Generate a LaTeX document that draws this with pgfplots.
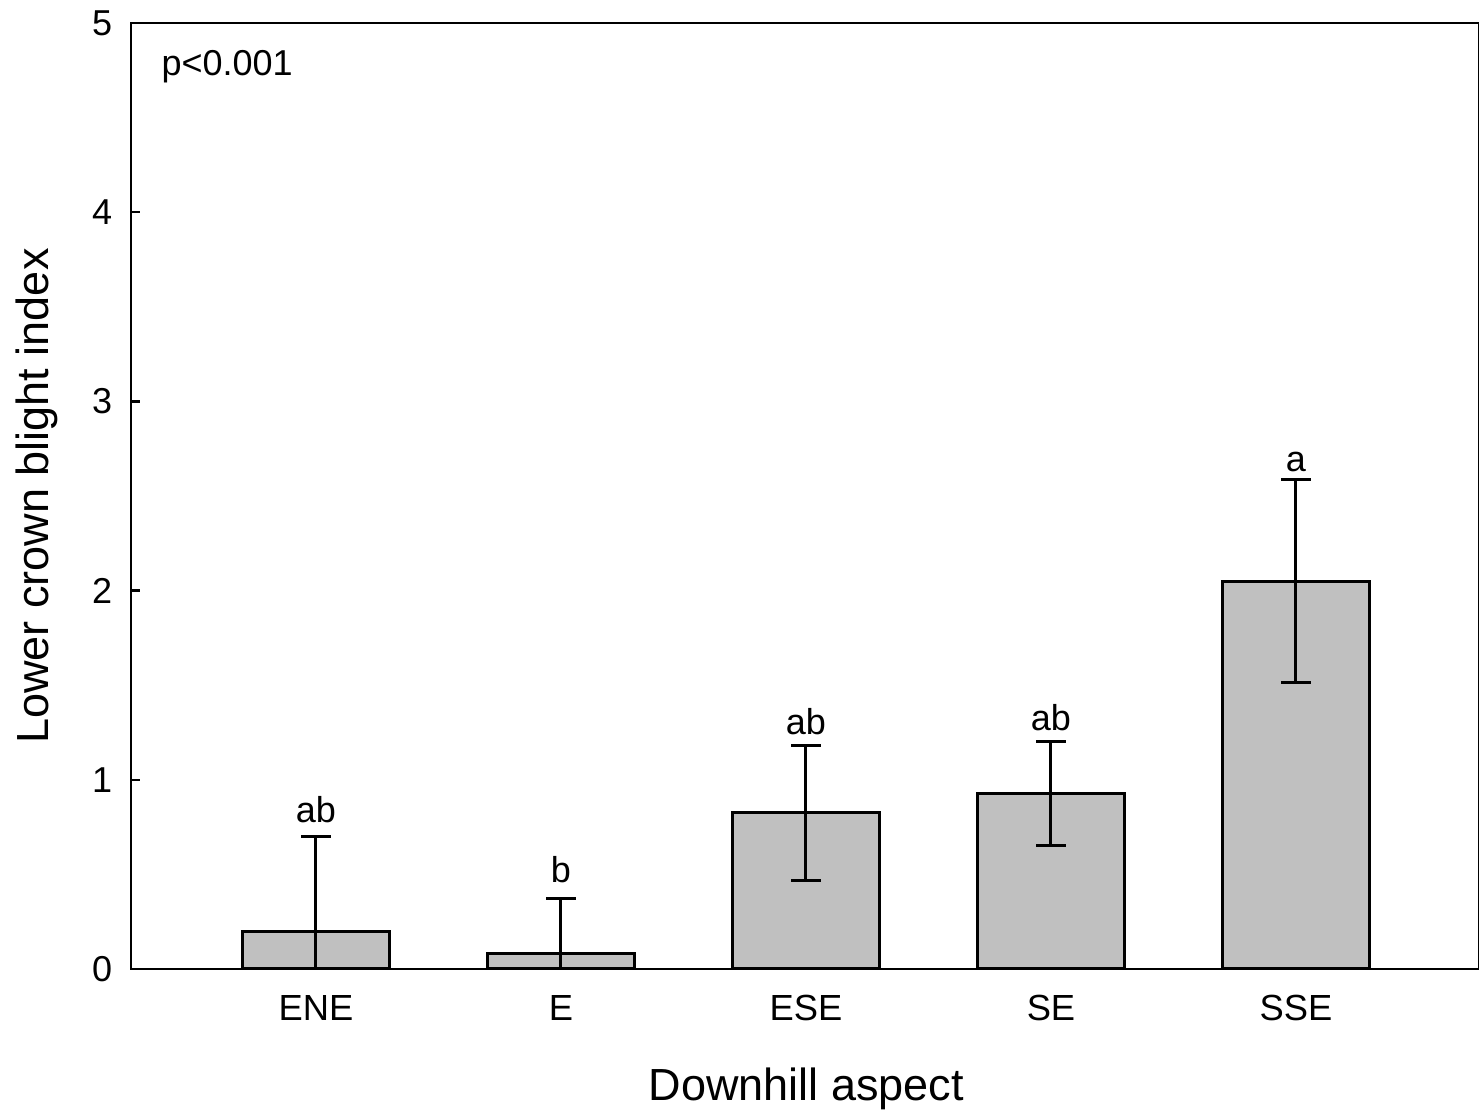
\documentclass[border=0pt]{standalone}
\usepackage{pgfplots}
\pgfplotsset{compat=1.18}
\usepackage{fontspec}
\setmainfont{Liberation Sans}
\usetikzlibrary{calc}
\definecolor{barfill}{RGB}{192,192,192}
\begin{document}
\begin{tikzpicture}
\begin{axis}[
  scale only axis, width=404.4pt, height=283.8pt,
  xmin=-0.755, xmax=4.747, ymin=0, ymax=5,
  xtick={0,1,2,3,4}, xticklabels={ENE,E,ESE,SE,SSE},
  ytick={0,1,2,3,4,5},
  ytick pos=left, xtick pos=bottom,
  major x tick style={draw=none},
  tick align=inside,
  major tick length=2.7pt,
  axis line style={line width=0.7pt},
  every tick/.style={black, line width=0.7pt},
  /pgf/number format/assume math mode=true,
  yticklabel style={font=\fontsize{10.8}{12}\selectfont, xshift=-2.1pt},
  xticklabel style={font=\fontsize{10.9}{12}\selectfont, yshift=-4.3pt},
  xlabel={Downhill aspect}, ylabel={Lower crown blight index},
  label style={font=\fontsize{13.5}{15}\selectfont},
  xlabel style={at={(axis description cs:0.501,-0.1268)}, anchor=center},
  ylabel style={at={(axis description cs:-0.0697,0.5)}, anchor=center},
]
\addplot[ybar, bar width=0.6, fill=barfill, draw=black, line width=0.9pt,
  error bars/.cd, y dir=both, y explicit,
  error bar style={line width=0.9pt, black},
  error mark options={rotate=90, mark size=4.4pt, line width=0.9pt, black}]
  table[x=x, y=y, y error=e] {
x y e
0 0.20 0.50
1 0.08 0.295
2 0.825 0.355
3 0.93 0.275
4 2.05 0.535
};
\node[font=\fontsize{10.8}{12}\selectfont, anchor=base] at (axis cs:0,0.772) {ab};
\node[font=\fontsize{10.8}{12}\selectfont, anchor=base] at (axis cs:1,0.455) {b};
\node[font=\fontsize{10.8}{12}\selectfont, anchor=base] at (axis cs:2,1.24) {ab};
\node[font=\fontsize{10.8}{12}\selectfont, anchor=base] at (axis cs:3,1.26) {ab};
\node[font=\fontsize{10.8}{12}\selectfont, anchor=base] at (axis cs:4,2.632) {a};
\node[font=\fontsize{10.8}{12}\selectfont, anchor=base west, inner sep=0pt] at (axis cs:-0.633,4.725) {p<0.001};
\coordinate (O) at (rel axis cs:0,0);
\coordinate (T) at (rel axis cs:1,1);
\end{axis}
\pgfresetboundingbox
\path[use as bounding box] ($(O)+(-39.3pt,-42.9pt)$) rectangle ($(T)+(0pt,6.9pt)$);
\end{tikzpicture}
\end{document}
